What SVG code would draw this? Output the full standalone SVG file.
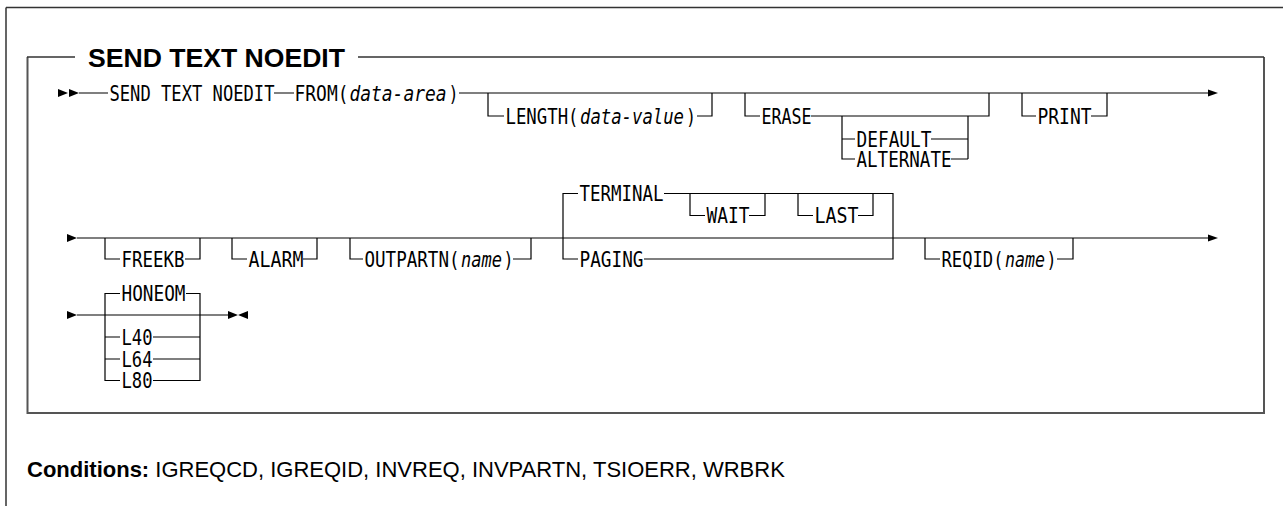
<svg xmlns="http://www.w3.org/2000/svg" width="1283" height="506" viewBox="0 0 1283 506">
<style>
.frame{fill:none;stroke:#333;stroke-width:1.5}
.box{fill:none;stroke:#555;stroke-width:2}
.ln{fill:none;stroke:#000;stroke-width:1.2}
.ar{fill:#000;stroke:none}
.kw{font-family:"DejaVu Sans Mono","Liberation Mono",monospace;font-size:21px;fill:#000}
.it{font-style:italic}
.title{font-family:"Liberation Sans",Arial,sans-serif;font-weight:bold;font-size:26px;fill:#000}
.cond{font-family:"Liberation Sans",Arial,sans-serif;font-size:22px;fill:#000}
</style>
<g id="frame">
<path class="frame" d="M6 7.5 H1283 M6 7.5 V506"/>
<path class="box" d="M27.5 57 V413 H1264 V57"/>
<path class="frame" d="M27 57 H75 M358 57 H1264"/>
<text class="title" x="88" y="67" textLength="257" lengthAdjust="spacingAndGlyphs">SEND TEXT NOEDIT</text>
</g>
<g id="connectors">
<polygon class="ar" points="58,89 68,93 58,97"/>
<polygon class="ar" points="69,89 79,93 69,97"/>
<path class="ln" d="M79 93 H108 M274 93 H294 M459 93 H1208"/>
<path class="ln" d="M488 93 V116 H504 M697 116 H712 V93"/>
<path class="ln" d="M745 93 V116 H760 M811 116 H989 V93"/>
<path class="ln" d="M842 116 V159 H855 M842 139 H855 M931 139 H968 M951 159 H968 M968 116 V159"/>
<path class="ln" d="M1022 93 V116 H1036 M1091 116 H1107 V93"/>
<polygon class="ar" points="1208,89.5 1218,93 1208,96.5"/>
<polygon class="ar" points="67,234 77,238 67,242"/>
<path class="ln" d="M77 238 H1208"/>
<path class="ln" d="M105 238 V259 H120 M185 259 H200 V238"/>
<path class="ln" d="M232 238 V259 H247 M303 259 H317 V238"/>
<path class="ln" d="M350 238 V259 H363 M513 259 H531 V238"/>
<path class="ln" d="M578 193.5 H563 V259 H578 M664 193.5 H893 V259 H644"/>
<path class="ln" d="M690 193.5 V215.5 H705 M749 215.5 H765 V193.5"/>
<path class="ln" d="M798 193.5 V215.5 H813 M858 215.5 H873 V193.5"/>
<path class="ln" d="M925 238 V259 H940 M1057 259 H1073 V238"/>
<polygon class="ar" points="1208,234.5 1218,238 1208,241.5"/>
<polygon class="ar" points="67,311 77,315 67,319"/>
<path class="ln" d="M77 315 H228"/>
<path class="ln" d="M120 293.5 H105 V380.5 H120 M105 337 H120 M105 359 H120 M186 293.5 H200 V380.5 H153 M153 337 H200 M153 359 H200"/>
<polygon class="ar" points="228,311 238,315 228,319"/>
<polygon class="ar" points="248,311 238,315 248,319"/>
</g>
<g id="n-send"><text class="kw" x="109.5" y="100.6" textLength="165" lengthAdjust="spacingAndGlyphs">SEND TEXT NOEDIT</text></g>
<g id="n-from">
<text class="kw" x="294.5" y="100.6" textLength="54" lengthAdjust="spacingAndGlyphs">FROM(</text>
<text class="kw it" x="349.5" y="100.6" textLength="97" lengthAdjust="spacingAndGlyphs">data-area</text>
<text class="kw" x="448.5" y="100.6" textLength="10" lengthAdjust="spacingAndGlyphs">)</text>
</g>
<g id="n-length">
<text class="kw" x="505.5" y="123.6" textLength="73" lengthAdjust="spacingAndGlyphs">LENGTH(</text>
<text class="kw it" x="580" y="123.6" textLength="104" lengthAdjust="spacingAndGlyphs">data-value</text>
<text class="kw" x="686" y="123.6" textLength="10" lengthAdjust="spacingAndGlyphs">)</text>
</g>
<g id="n-erase"><text class="kw" x="761.5" y="123.6" textLength="50" lengthAdjust="spacingAndGlyphs">ERASE</text></g>
<g id="n-default"><text class="kw" x="856.5" y="146.6" textLength="75" lengthAdjust="spacingAndGlyphs">DEFAULT</text></g>
<g id="n-alternate"><text class="kw" x="856.5" y="166.6" textLength="95" lengthAdjust="spacingAndGlyphs">ALTERNATE</text></g>
<g id="n-print"><text class="kw" x="1037.5" y="123.6" textLength="54" lengthAdjust="spacingAndGlyphs">PRINT</text></g>
<g id="n-freekb"><text class="kw" x="121.5" y="266.6" textLength="63" lengthAdjust="spacingAndGlyphs">FREEKB</text></g>
<g id="n-alarm"><text class="kw" x="248.5" y="266.6" textLength="55" lengthAdjust="spacingAndGlyphs">ALARM</text></g>
<g id="n-outpartn">
<text class="kw" x="364.5" y="266.6" textLength="95" lengthAdjust="spacingAndGlyphs">OUTPARTN(</text>
<text class="kw it" x="461" y="266.6" textLength="41" lengthAdjust="spacingAndGlyphs">name</text>
<text class="kw" x="503.5" y="266.6" textLength="10" lengthAdjust="spacingAndGlyphs">)</text>
</g>
<g id="n-terminal"><text class="kw" x="579.5" y="201.1" textLength="84" lengthAdjust="spacingAndGlyphs">TERMINAL</text></g>
<g id="n-wait"><text class="kw" x="706.5" y="223.1" textLength="43" lengthAdjust="spacingAndGlyphs">WAIT</text></g>
<g id="n-last"><text class="kw" x="814.5" y="223.1" textLength="44" lengthAdjust="spacingAndGlyphs">LAST</text></g>
<g id="n-paging"><text class="kw" x="579.5" y="266.6" textLength="64" lengthAdjust="spacingAndGlyphs">PAGING</text></g>
<g id="n-reqid">
<text class="kw" x="941.5" y="266.6" textLength="62" lengthAdjust="spacingAndGlyphs">REQID(</text>
<text class="kw it" x="1005" y="266.6" textLength="40" lengthAdjust="spacingAndGlyphs">name</text>
<text class="kw" x="1046.5" y="266.6" textLength="10" lengthAdjust="spacingAndGlyphs">)</text>
</g>
<g id="n-honeom"><text class="kw" x="121.5" y="301.1" textLength="64" lengthAdjust="spacingAndGlyphs">HONEOM</text></g>
<g id="n-l40"><text class="kw" x="121.5" y="344.6" textLength="31" lengthAdjust="spacingAndGlyphs">L40</text></g>
<g id="n-l64"><text class="kw" x="121.5" y="366.6" textLength="31" lengthAdjust="spacingAndGlyphs">L64</text></g>
<g id="n-l80"><text class="kw" x="121.5" y="388.1" textLength="31" lengthAdjust="spacingAndGlyphs">L80</text></g>
<g id="conditions"><text class="cond" x="27" y="476.5"><tspan font-weight="bold">Conditions:</tspan> IGREQCD, IGREQID, INVREQ, INVPARTN, TSIOERR, WRBRK</text></g>
</svg>
